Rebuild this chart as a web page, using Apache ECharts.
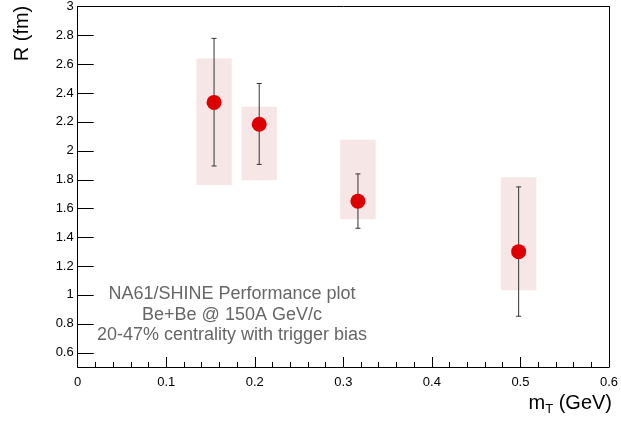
<!DOCTYPE html>
<html>
<head>
<meta charset="utf-8">
<script src="https://cdn.jsdelivr.net/npm/echarts@6/dist/echarts.min.js"></script>
<style>
html,body{margin:0;padding:0;background:#fff;}
#c{width:621px;height:421px;}
</style>
</head>
<body>
<div id="c"></div>
<script>
// ---- data ----
var mT = [0.154, 0.205, 0.3165, 0.498];
var R = [2.335, 2.183, 1.65, 1.30];
var statLo = [1.894, 1.905, 1.462, 0.852];
var statHi = [2.779, 2.466, 1.839, 1.749];
var sysLo = [1.763, 1.795, 1.524, 1.032];
var sysHi = [2.639, 2.305, 2.076, 1.816];
var sysHalfWidth = 0.02;
var yTicks = [0.6, 0.8, 1.0, 1.2, 1.4, 1.6, 1.8, 2.0, 2.2, 2.4, 2.6, 2.8, 3.0];
var xTicks = [0, 0.1, 0.2, 0.3, 0.4, 0.5, 0.6];
var infoLines = ['NA61/SHINE Performance plot', 'Be+Be @ 150A GeV/c', '20-47% centrality with trigger bias'];

var xMin = 0, xMax = 0.6, xStep = 0.1;
var yMin = 0.5, yMax = 3;
var FONT = 'Liberation Sans, Arial, Helvetica, sans-serif';
var chart = echarts.init(document.getElementById('c'));

var boxData = mT.map(function (x, i) { return [x, sysLo[i], sysHi[i]]; });
var errData = mT.map(function (x, i) { return [x, statLo[i], statHi[i]]; });
var ptData = mT.map(function (x, i) { return [x, R[i]]; });

var graphics = [];
infoLines.forEach(function (t, i) {
  graphics.push({
    type: 'text', id: 'info' + i, x: 232, y: 294.5 + i * 20.5,
    style: { text: t, font: '18px ' + FONT, fill: '#666666', align: 'center', verticalAlign: 'middle' }
  });
});
graphics.push({
  type: 'text', id: 'ytitle', x: 22, y: 33.5, rotation: Math.PI / 2,
  style: { text: 'R (fm)', font: '20px ' + FONT, fill: '#000', align: 'center', verticalAlign: 'middle' }
});
graphics.push({
  type: 'text', id: 'xtitle', x: 612, y: 403,
  style: {
    text: '{a|m}{b|T}{a| (GeV)}', align: 'right', verticalAlign: 'middle',
    rich: {
      a: { fontFamily: FONT, fontSize: 20, fill: '#000', verticalAlign: 'bottom' },
      b: { fontFamily: FONT, fontSize: 13, fill: '#000', verticalAlign: 'bottom', padding: [0, 0, -3, 0] }
    }
  }
});

var fmt = function (v) { return String(parseFloat(Number(v).toFixed(3))); };

chart.setOption({
  animation: false,
  grid: { left: 77.7, right: 9, top: 5.3, bottom: 54, show: false },
  xAxis: [{
    type: 'value', min: xMin, max: xMax, interval: xStep, position: 'bottom', z: 10,
    axisLine: { show: true, onZero: false, lineStyle: { color: '#000', width: 1 } },
    axisTick: { show: true, inside: true, length: 10, lineStyle: { color: '#000', width: 1 } },
    minorTick: { show: true, splitNumber: 5, length: 5, lineStyle: { color: '#000', width: 1 } },
    splitLine: { show: false }, minorSplitLine: { show: false },
    axisLabel: { show: true, color: '#000', fontFamily: FONT, fontSize: 13, margin: 9, formatter: fmt }
  }, {
    type: 'value', min: xMin, max: xMax, position: 'top', z: 10,
    axisLine: { show: true, onZero: false, lineStyle: { color: '#000', width: 1 } },
    axisTick: { show: false }, axisLabel: { show: false }, splitLine: { show: false }
  }],
  yAxis: [{
    type: 'value', min: yMin, max: yMax, position: 'left', z: 10,
    axisLine: { show: true, onZero: false, lineStyle: { color: '#000', width: 1 } },
    axisTick: { show: false }, splitLine: { show: false },
    axisLabel: { show: true, color: '#000', fontFamily: FONT, fontSize: 13, margin: 4, customValues: yTicks, formatter: fmt }
  }, {
    type: 'value', min: yMin, max: yMax, position: 'right', z: 10,
    axisLine: { show: true, onZero: false, lineStyle: { color: '#000', width: 1 } },
    axisTick: { show: false }, axisLabel: { show: false }, splitLine: { show: false }
  }],
  graphic: graphics,
  series: [
    {
      type: 'custom', data: boxData, z: 1, yAxisIndex: 0,
      renderItem: function (params, api) {
        var p1 = api.coord([api.value(0) - sysHalfWidth, api.value(2)]);
        var p2 = api.coord([api.value(0) + sysHalfWidth, api.value(1)]);
        return { type: 'rect', shape: { x: p1[0], y: p1[1], width: p2[0] - p1[0], height: p2[1] - p1[1] },
          style: { fill: '#f7e6e6' } };
      }
    },
    {
      type: 'custom', data: errData, z: 2, yAxisIndex: 0,
      renderItem: function (params, api) {
        var top = api.coord([api.value(0), api.value(2)]);
        var bot = api.coord([api.value(0), api.value(1)]);
        var cw = 2.5;
        var st = { stroke: '#333', lineWidth: 1 };
        return { type: 'group', children: [
          { type: 'line', shape: { x1: top[0], y1: top[1], x2: bot[0], y2: bot[1] }, style: st },
          { type: 'line', shape: { x1: top[0] - cw, y1: top[1], x2: top[0] + cw, y2: top[1] }, style: st },
          { type: 'line', shape: { x1: bot[0] - cw, y1: bot[1], x2: bot[0] + cw, y2: bot[1] }, style: st }
        ] };
      }
    },
    {
      type: 'scatter', data: ptData, z: 3, yAxisIndex: 0, symbol: 'circle', symbolSize: 15,
      itemStyle: { color: '#dd0000', opacity: 1 }
    }
  ]
});

// y-axis major ticks (inside), positioned through the R axis scale at the tick values
var x0 = chart.convertToPixel({ xAxisIndex: 0 }, xMin);
var tickEls = yTicks.map(function (v, i) {
  var y = Math.round(chart.convertToPixel({ yAxisIndex: 0 }, v)) + 0.5;
  return { type: 'line', id: 'ytick' + i, z: 100, silent: true,
    shape: { x1: x0, y1: y, x2: x0 + 16, y2: y },
    style: { stroke: '#000', lineWidth: 1 } };
});
chart.setOption({ graphic: graphics.concat(tickEls) });
</script>
</body>
</html>
